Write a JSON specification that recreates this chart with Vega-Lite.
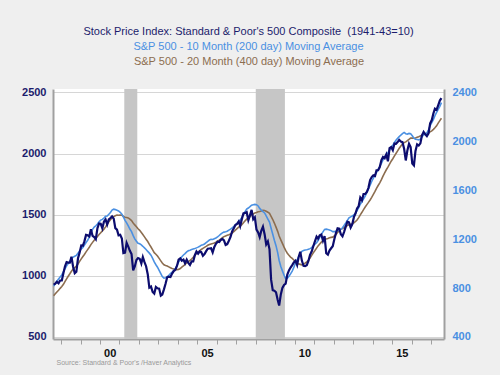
{
"$schema": "https://vega.github.io/schema/vega-lite/v6.json",
"width": 391, "height": 250,
"autosize": {"type": "none"},
"padding": {"left": 53, "top": 89, "right": 56, "bottom": 36},
"background": "#efefef",
"view": {"fill": "white", "stroke": null},
"config": {"font": "Liberation Sans"},
"title": {"text": "Stock Price Index: Standard & Poor's 500 Composite \u00a0(1941-43=10)", "subtitle": "S&P 500 - 10 Month (200 day) Moving Average", "color": "#1c1c6c", "subtitleColor": "#4a90e2", "fontSize": 11, "subtitleFontSize": 11, "fontWeight": "normal", "anchor": "middle", "subtitlePadding": 4, "offset": 3},
"datasets": {
"rec": [{"s": "2001-04-01", "e": "2001-12-01"}, {"s": "2008-01-01", "e": "2009-07-01"}],
"sp": [
{"d":"1997-08-15","sp":928,"m10":816,"m20":737},
{"d":"1997-09-15","sp":937,"m10":836,"m20":753},
{"d":"1997-10-15","sp":951,"m10":857,"m20":768},
{"d":"1997-11-15","sp":939,"m10":874,"m20":782},
{"d":"1997-12-15","sp":962,"m10":891,"m20":798},
{"d":"1998-01-15","sp":963,"m10":908,"m20":813},
{"d":"1998-02-15","sp":1024,"m10":934,"m20":831},
{"d":"1998-03-15","sp":1077,"m10":958,"m20":853},
{"d":"1998-04-15","sp":1112,"m10":982,"m20":875},
{"d":"1998-05-15","sp":1108,"m10":1000,"m20":897},
{"d":"1998-06-15","sp":1108,"m10":1018,"m20":917},
{"d":"1998-07-15","sp":1157,"m10":1040,"m20":938},
{"d":"1998-08-15","sp":1075,"m10":1053,"m20":955},
{"d":"1998-09-15","sp":1021,"m10":1061,"m20":968},
{"d":"1998-10-15","sp":1033,"m10":1068,"m20":979},
{"d":"1998-11-15","sp":1144,"m10":1086,"m20":997},
{"d":"1998-12-15","sp":1190,"m10":1103,"m20":1018},
{"d":"1999-01-15","sp":1249,"m10":1120,"m20":1039},
{"d":"1999-02-15","sp":1247,"m10":1133,"m20":1058},
{"d":"1999-03-15","sp":1282,"m10":1151,"m20":1075},
{"d":"1999-04-15","sp":1335,"m10":1173,"m20":1096},
{"d":"1999-05-15","sp":1332,"m10":1191,"m20":1115},
{"d":"1999-06-15","sp":1323,"m10":1216,"m20":1134},
{"d":"1999-07-15","sp":1381,"m10":1252,"m20":1156},
{"d":"1999-08-15","sp":1328,"m10":1281,"m20":1174},
{"d":"1999-09-15","sp":1318,"m10":1299,"m20":1192},
{"d":"1999-10-15","sp":1300,"m10":1310,"m20":1206},
{"d":"1999-11-15","sp":1391,"m10":1324,"m20":1222},
{"d":"1999-12-15","sp":1429,"m10":1342,"m20":1238},
{"d":"2000-01-15","sp":1426,"m10":1356,"m20":1253},
{"d":"2000-02-15","sp":1389,"m10":1362,"m20":1268},
{"d":"2000-03-15","sp":1442,"m10":1373,"m20":1282},
{"d":"2000-04-15","sp":1461,"m10":1387,"m20":1301},
{"d":"2000-05-15","sp":1419,"m10":1390,"m20":1321},
{"d":"2000-06-15","sp":1462,"m10":1404,"m20":1342},
{"d":"2000-07-15","sp":1473,"m10":1419,"m20":1359},
{"d":"2000-08-15","sp":1486,"m10":1438,"m20":1374},
{"d":"2000-09-15","sp":1468,"m10":1446,"m20":1385},
{"d":"2000-10-15","sp":1390,"m10":1442,"m20":1392},
{"d":"2000-11-15","sp":1378,"m10":1437,"m20":1397},
{"d":"2000-12-15","sp":1331,"m10":1431,"m20":1396},
{"d":"2001-01-15","sp":1336,"m10":1420,"m20":1397},
{"d":"2001-02-15","sp":1306,"m10":1405,"m20":1396},
{"d":"2001-03-15","sp":1186,"m10":1382,"m20":1386},
{"d":"2001-04-15","sp":1190,"m10":1354,"m20":1379},
{"d":"2001-05-15","sp":1270,"m10":1334,"m20":1377},
{"d":"2001-06-15","sp":1239,"m10":1309,"m20":1374},
{"d":"2001-07-15","sp":1205,"m10":1283,"m20":1364},
{"d":"2001-08-15","sp":1179,"m10":1262,"m20":1352},
{"d":"2001-09-15","sp":1045,"m10":1229,"m20":1333},
{"d":"2001-10-15","sp":1077,"m10":1203,"m20":1317},
{"d":"2001-11-15","sp":1130,"m10":1183,"m20":1302},
{"d":"2001-12-15","sp":1145,"m10":1167,"m20":1286},
{"d":"2002-01-15","sp":1140,"m10":1162,"m20":1272},
{"d":"2002-02-15","sp":1101,"m10":1153,"m20":1254},
{"d":"2002-03-15","sp":1154,"m10":1142,"m20":1238},
{"d":"2002-04-15","sp":1112,"m10":1129,"m20":1219},
{"d":"2002-05-15","sp":1079,"m10":1116,"m20":1200},
{"d":"2002-06-15","sp":1014,"m10":1100,"m20":1181},
{"d":"2002-07-15","sp":904,"m10":1086,"m20":1157},
{"d":"2002-08-15","sp":913,"m10":1069,"m20":1136},
{"d":"2002-09-15","sp":868,"m10":1043,"m20":1113},
{"d":"2002-10-15","sp":855,"m10":1014,"m20":1090},
{"d":"2002-11-15","sp":910,"m10":991,"m20":1077},
{"d":"2002-12-15","sp":899,"m10":971,"m20":1062},
{"d":"2003-01-15","sp":896,"m10":945,"m20":1043},
{"d":"2003-02-15","sp":838,"m10":918,"m20":1023},
{"d":"2003-03-15","sp":847,"m10":894,"m20":1005},
{"d":"2003-04-15","sp":890,"m10":882,"m20":991},
{"d":"2003-05-15","sp":936,"m10":885,"m20":985},
{"d":"2003-06-15","sp":988,"m10":893,"m20":981},
{"d":"2003-07-15","sp":993,"m10":905,"m20":974},
{"d":"2003-08-15","sp":990,"m10":919,"m20":966},
{"d":"2003-09-15","sp":1019,"m10":930,"m20":960},
{"d":"2003-10-15","sp":1039,"m10":944,"m20":957},
{"d":"2003-11-15","sp":1050,"m10":959,"m20":952},
{"d":"2003-12-15","sp":1081,"m10":983,"m20":950},
{"d":"2004-01-15","sp":1133,"m10":1012,"m20":953},
{"d":"2004-02-15","sp":1143,"m10":1037,"m20":960},
{"d":"2004-03-15","sp":1124,"m10":1056,"m20":971},
{"d":"2004-04-15","sp":1133,"m10":1071,"m20":982},
{"d":"2004-05-15","sp":1103,"m10":1082,"m20":993},
{"d":"2004-06-15","sp":1133,"m10":1096,"m20":1007},
{"d":"2004-07-15","sp":1106,"m10":1105,"m20":1017},
{"d":"2004-08-15","sp":1089,"m10":1110,"m20":1027},
{"d":"2004-09-15","sp":1118,"m10":1116,"m20":1038},
{"d":"2004-10-15","sp":1118,"m10":1120,"m20":1052},
{"d":"2004-11-15","sp":1169,"m10":1124,"m20":1068},
{"d":"2004-12-15","sp":1199,"m10":1129,"m20":1083},
{"d":"2005-01-15","sp":1181,"m10":1135,"m20":1095},
{"d":"2005-02-15","sp":1200,"m10":1142,"m20":1106},
{"d":"2005-03-15","sp":1195,"m10":1151,"m20":1116},
{"d":"2005-04-15","sp":1164,"m10":1154,"m20":1125},
{"d":"2005-05-15","sp":1178,"m10":1161,"m20":1133},
{"d":"2005-06-15","sp":1202,"m10":1172,"m20":1141},
{"d":"2005-07-15","sp":1222,"m10":1183,"m20":1150},
{"d":"2005-08-15","sp":1224,"m10":1193,"m20":1157},
{"d":"2005-09-15","sp":1226,"m10":1199,"m20":1161},
{"d":"2005-10-15","sp":1192,"m10":1198,"m20":1164},
{"d":"2005-11-15","sp":1237,"m10":1204,"m20":1169},
{"d":"2005-12-15","sp":1262,"m10":1210,"m20":1176},
{"d":"2006-01-15","sp":1279,"m10":1219,"m20":1185},
{"d":"2006-02-15","sp":1277,"m10":1230,"m20":1192},
{"d":"2006-03-15","sp":1294,"m10":1242,"m20":1201},
{"d":"2006-04-15","sp":1302,"m10":1252,"m20":1212},
{"d":"2006-05-15","sp":1290,"m10":1258,"m20":1221},
{"d":"2006-06-15","sp":1253,"m10":1261,"m20":1227},
{"d":"2006-07-15","sp":1260,"m10":1265,"m20":1232},
{"d":"2006-08-15","sp":1287,"m10":1274,"m20":1236},
{"d":"2006-09-15","sp":1318,"m10":1282,"m20":1243},
{"d":"2006-10-15","sp":1363,"m10":1292,"m20":1251},
{"d":"2006-11-15","sp":1389,"m10":1303,"m20":1261},
{"d":"2006-12-15","sp":1416,"m10":1317,"m20":1274},
{"d":"2007-01-15","sp":1424,"m10":1330,"m20":1286},
{"d":"2007-02-15","sp":1445,"m10":1345,"m20":1298},
{"d":"2007-03-15","sp":1407,"m10":1356,"m20":1307},
{"d":"2007-04-15","sp":1464,"m10":1377,"m20":1319},
{"d":"2007-05-15","sp":1511,"m10":1402,"m20":1334},
{"d":"2007-06-15","sp":1515,"m10":1425,"m20":1350},
{"d":"2007-07-15","sp":1521,"m10":1446,"m20":1364},
{"d":"2007-08-15","sp":1455,"m10":1455,"m20":1374},
{"d":"2007-09-15","sp":1497,"m10":1466,"m20":1384},
{"d":"2007-10-15","sp":1540,"m10":1478,"m20":1398},
{"d":"2007-11-15","sp":1463,"m10":1482,"m20":1406},
{"d":"2007-12-15","sp":1479,"m10":1485,"m20":1415},
{"d":"2008-01-15","sp":1379,"m10":1482,"m20":1419},
{"d":"2008-02-15","sp":1355,"m10":1472,"m20":1424},
{"d":"2008-03-15","sp":1317,"m10":1452,"m20":1427},
{"d":"2008-04-15","sp":1371,"m10":1438,"m20":1431},
{"d":"2008-05-15","sp":1403,"m10":1426,"m20":1436},
{"d":"2008-06-15","sp":1341,"m10":1415,"m20":1435},
{"d":"2008-07-15","sp":1257,"m10":1391,"m20":1428},
{"d":"2008-08-15","sp":1282,"m10":1365,"m20":1421},
{"d":"2008-09-15","sp":1217,"m10":1340,"m20":1411},
{"d":"2008-10-15","sp":969,"m10":1289,"m20":1387},
{"d":"2008-11-15","sp":883,"m10":1240,"m20":1361},
{"d":"2008-12-15","sp":878,"m10":1192,"m20":1332},
{"d":"2009-01-15","sp":866,"m10":1147,"m20":1299},
{"d":"2009-02-15","sp":805,"m10":1090,"m20":1264},
{"d":"2009-03-15","sp":757,"m10":1026,"m20":1226},
{"d":"2009-04-15","sp":848,"m10":976,"m20":1195},
{"d":"2009-05-15","sp":902,"m10":941,"m20":1166},
{"d":"2009-06-15","sp":926,"m10":905,"m20":1135},
{"d":"2009-07-15","sp":936,"m10":877,"m20":1109},
{"d":"2009-08-15","sp":1010,"m10":881,"m20":1085},
{"d":"2009-09-15","sp":1045,"m10":897,"m20":1068},
{"d":"2009-10-15","sp":1068,"m10":916,"m20":1054},
{"d":"2009-11-15","sp":1088,"m10":939,"m20":1043},
{"d":"2009-12-15","sp":1110,"m10":969,"m20":1030},
{"d":"2010-01-15","sp":1124,"m10":1006,"m20":1016},
{"d":"2010-02-15","sp":1089,"m10":1030,"m20":1003},
{"d":"2010-03-15","sp":1152,"m10":1055,"m20":998},
{"d":"2010-04-15","sp":1197,"m10":1082,"m20":994},
{"d":"2010-05-15","sp":1125,"m10":1101,"m20":989},
{"d":"2010-06-15","sp":1083,"m10":1108,"m20":995},
{"d":"2010-07-15","sp":1080,"m10":1112,"m20":1004},
{"d":"2010-08-15","sp":1087,"m10":1114,"m20":1015},
{"d":"2010-09-15","sp":1122,"m10":1117,"m20":1028},
{"d":"2010-10-15","sp":1172,"m10":1123,"m20":1046},
{"d":"2010-11-15","sp":1199,"m10":1131,"m20":1068},
{"d":"2010-12-15","sp":1242,"m10":1146,"m20":1088},
{"d":"2011-01-15","sp":1283,"m10":1159,"m20":1107},
{"d":"2011-02-15","sp":1321,"m10":1171,"m20":1127},
{"d":"2011-03-15","sp":1305,"m10":1189,"m20":1145},
{"d":"2011-04-15","sp":1332,"m10":1214,"m20":1161},
{"d":"2011-05-15","sp":1338,"m10":1240,"m20":1176},
{"d":"2011-06-15","sp":1287,"m10":1260,"m20":1187},
{"d":"2011-07-15","sp":1325,"m10":1280,"m20":1199},
{"d":"2011-08-15","sp":1185,"m10":1282,"m20":1202},
{"d":"2011-09-15","sp":1174,"m10":1279,"m20":1205},
{"d":"2011-10-15","sp":1207,"m10":1276,"m20":1211},
{"d":"2011-11-15","sp":1226,"m10":1270,"m20":1215},
{"d":"2011-12-15","sp":1243,"m10":1262,"m20":1217},
{"d":"2012-01-15","sp":1301,"m10":1262,"m20":1226},
{"d":"2012-02-15","sp":1353,"m10":1264,"m20":1239},
{"d":"2012-03-15","sp":1389,"m10":1269,"m20":1255},
{"d":"2012-04-15","sp":1386,"m10":1279,"m20":1270},
{"d":"2012-05-15","sp":1341,"m10":1281,"m20":1280},
{"d":"2012-06-15","sp":1324,"m10":1294,"m20":1288},
{"d":"2012-07-15","sp":1360,"m10":1313,"m20":1296},
{"d":"2012-08-15","sp":1403,"m10":1333,"m20":1304},
{"d":"2012-09-15","sp":1443,"m10":1354,"m20":1312},
{"d":"2012-10-15","sp":1438,"m10":1374,"m20":1318},
{"d":"2012-11-15","sp":1395,"m10":1383,"m20":1323},
{"d":"2012-12-15","sp":1422,"m10":1390,"m20":1327},
{"d":"2013-01-15","sp":1480,"m10":1399,"m20":1334},
{"d":"2013-02-15","sp":1512,"m10":1412,"m20":1345},
{"d":"2013-03-15","sp":1551,"m10":1433,"m20":1357},
{"d":"2013-04-15","sp":1571,"m10":1458,"m20":1376},
{"d":"2013-05-15","sp":1640,"m10":1486,"m20":1399},
{"d":"2013-06-15","sp":1619,"m10":1507,"m20":1420},
{"d":"2013-07-15","sp":1669,"m10":1530,"m20":1442},
{"d":"2013-08-15","sp":1670,"m10":1553,"m20":1463},
{"d":"2013-09-15","sp":1687,"m10":1582,"m20":1483},
{"d":"2013-10-15","sp":1720,"m10":1612,"m20":1501},
{"d":"2013-11-15","sp":1784,"m10":1642,"m20":1521},
{"d":"2013-12-15","sp":1808,"m10":1672,"m20":1542},
{"d":"2014-01-15","sp":1822,"m10":1699,"m20":1566},
{"d":"2014-02-15","sp":1817,"m10":1724,"m20":1591},
{"d":"2014-03-15","sp":1864,"m10":1746,"m20":1616},
{"d":"2014-04-15","sp":1864,"m10":1771,"m20":1639},
{"d":"2014-05-15","sp":1890,"m10":1793,"m20":1661},
{"d":"2014-06-15","sp":1947,"m10":1820,"m20":1687},
{"d":"2014-07-15","sp":1973,"m10":1849,"m20":1716},
{"d":"2014-08-15","sp":1962,"m10":1873,"m20":1743},
{"d":"2014-09-15","sp":1993,"m10":1894,"m20":1768},
{"d":"2014-10-15","sp":1937,"m10":1907,"m20":1789},
{"d":"2014-11-15","sp":2045,"m10":1929,"m20":1814},
{"d":"2014-12-15","sp":2054,"m10":1953,"m20":1838},
{"d":"2015-01-15","sp":2028,"m10":1969,"m20":1858},
{"d":"2015-02-15","sp":2082,"m10":1991,"m20":1881},
{"d":"2015-03-15","sp":2080,"m10":2010,"m20":1901},
{"d":"2015-04-15","sp":2094,"m10":2025,"m20":1923},
{"d":"2015-05-15","sp":2112,"m10":2039,"m20":1944},
{"d":"2015-06-15","sp":2099,"m10":2052,"m20":1963},
{"d":"2015-07-15","sp":2094,"m10":2063,"m20":1978},
{"d":"2015-08-15","sp":2040,"m10":2073,"m20":1990},
{"d":"2015-09-15","sp":1944,"m10":2063,"m20":1996},
{"d":"2015-10-15","sp":2025,"m10":2060,"m20":2006},
{"d":"2015-11-15","sp":2081,"m10":2065,"m20":2017},
{"d":"2015-12-15","sp":2054,"m10":2062,"m20":2027},
{"d":"2016-01-15","sp":1919,"m10":2046,"m20":2028},
{"d":"2016-02-15","sp":1904,"m10":2027,"m20":2026},
{"d":"2016-03-15","sp":2022,"m10":2018,"m20":2028},
{"d":"2016-04-15","sp":2076,"m10":2016,"m20":2034},
{"d":"2016-05-15","sp":2066,"m10":2013,"m20":2038},
{"d":"2016-06-15","sp":2084,"m10":2018,"m20":2045},
{"d":"2016-07-15","sp":2149,"m10":2038,"m20":2050},
{"d":"2016-08-15","sp":2178,"m10":2053,"m20":2057},
{"d":"2016-09-15","sp":2158,"m10":2061,"m20":2063},
{"d":"2016-10-15","sp":2143,"m10":2070,"m20":2066},
{"d":"2016-11-15","sp":2165,"m10":2095,"m20":2070},
{"d":"2016-12-15","sp":2247,"m10":2129,"m20":2078},
{"d":"2017-01-15","sp":2275,"m10":2154,"m20":2086},
{"d":"2017-02-15","sp":2330,"m10":2180,"m20":2098},
{"d":"2017-03-15","sp":2367,"m10":2210,"m20":2111},
{"d":"2017-04-15","sp":2359,"m10":2237,"m20":2127},
{"d":"2017-05-15","sp":2395,"m10":2262,"m20":2150},
{"d":"2017-06-15","sp":2434,"m10":2287,"m20":2170},
{"d":"2017-07-15","sp":2454,"m10":2317,"m20":2189}
]
},
"layer": [
{
"data": {"name": "rec"},
"mark": {"type": "rect", "color": "#c6c6c6", "clip": true},
"encoding": {
"x": {"field": "s", "type": "temporal", "scale": {"type": "utc", "domain": [{"year": 1997, "month": 8, "date": 3, "utc": true}, {"year": 2017, "month": 9, "date": 1, "utc": true}]}, "axis": null},
"x2": {"field": "e"}
}
},
{
"data": {"name": "sp"},
"transform": [{"fold": ["m20", "m10"], "as": ["k", "v"]}],
"mark": {"type": "line", "strokeWidth": 1.6, "clip": true},
"encoding": {
"x": {"field": "d", "type": "temporal", "scale": {"type": "utc", "domain": [{"year": 1997, "month": 8, "date": 3, "utc": true}, {"year": 2017, "month": 9, "date": 1, "utc": true}]},
 "axis": {"orient": "top", "labels": false, "ticks": false, "domain": false, "grid": false, "title": "S&P 500 - 20 Month (400 day) Moving Average", "titleColor": "#8c6d4f", "titleFontSize": 11, "titleFontWeight": "normal", "titlePadding": 23}},
"y": {"field": "v", "type": "quantitative", "scale": {"domain": [383.6, 2428.6], "nice": false, "zero": false},
 "axis": {"orient": "right", "values": [400, 800, 1200, 1600, 2000, 2400], "format": "d", "labelFontSize": 11, "labelFontWeight": "bold", "labelColor": "#4a90e2", "ticks": false, "labelPadding": 8, "domainColor": "#a0a0a0", "domainWidth": 2, "grid": false, "title": null}},
"color": {"field": "k", "type": "nominal", "scale": {"domain": ["m10", "m20"], "range": ["#4a90e2", "#8c6d4f"]}, "legend": null}
}
},
{
"data": {"name": "sp"},
"mark": {"type": "line", "color": "#0c0c6e", "strokeWidth": 2.2, "clip": true},
"encoding": {
"x": {"field": "d", "type": "temporal", "scale": {"type": "utc", "domain": [{"year": 1997, "month": 8, "date": 3, "utc": true}, {"year": 2017, "month": 9, "date": 1, "utc": true}]},
 "axis": {"orient": "bottom", "values": [{"year": 1998, "utc": true}, {"year": 1999, "utc": true}, {"year": 2000, "utc": true}, {"year": 2001, "utc": true}, {"year": 2002, "utc": true}, {"year": 2003, "utc": true}, {"year": 2004, "utc": true}, {"year": 2005, "utc": true}, {"year": 2006, "utc": true}, {"year": 2007, "utc": true}, {"year": 2008, "utc": true}, {"year": 2009, "utc": true}, {"year": 2010, "utc": true}, {"year": 2011, "utc": true}, {"year": 2012, "utc": true}, {"year": 2013, "utc": true}, {"year": 2014, "utc": true}, {"year": 2015, "utc": true}, {"year": 2016, "utc": true}, {"year": 2017, "utc": true}],
  "labelExpr": "utcyear(datum.value) % 5 == 0 ? substring(toString(utcyear(datum.value)), 2, 4) : ''",
  "labelOffset": 9.7, "labelOverlap": false, "labelFontSize": 11, "labelFontWeight": "bold", "labelColor": "#111111", "labelPadding": 3,
  "tickSize": 5, "tickColor": "#a0a0a0", "domainColor": "#a0a0a0", "domainWidth": 2, "grid": false,
  "title": "Source:  Standard & Poor's /Haver Analytics", "titleFontSize": 7, "titleColor": "#999999", "titleFontWeight": "normal", "titleAnchor": "start", "titlePadding": 0, "titleX": 3}},
"y": {"field": "sp", "type": "quantitative", "scale": {"domain": [483.6, 2528.6], "nice": false, "zero": false},
 "axis": {"orient": "left", "values": [500, 1000, 1500, 2000, 2500], "format": "d", "labelFontSize": 11, "labelFontWeight": "bold", "labelColor": "#1c1c6c", "ticks": false, "labelPadding": 7, "domainColor": "#a0a0a0", "domainWidth": 2, "grid": true, "gridColor": "#d6d6d6", "title": null}}
}
}
],
"resolve": {"scale": {"y": "independent"}, "axis": {"x": "independent", "y": "independent"}}
}
